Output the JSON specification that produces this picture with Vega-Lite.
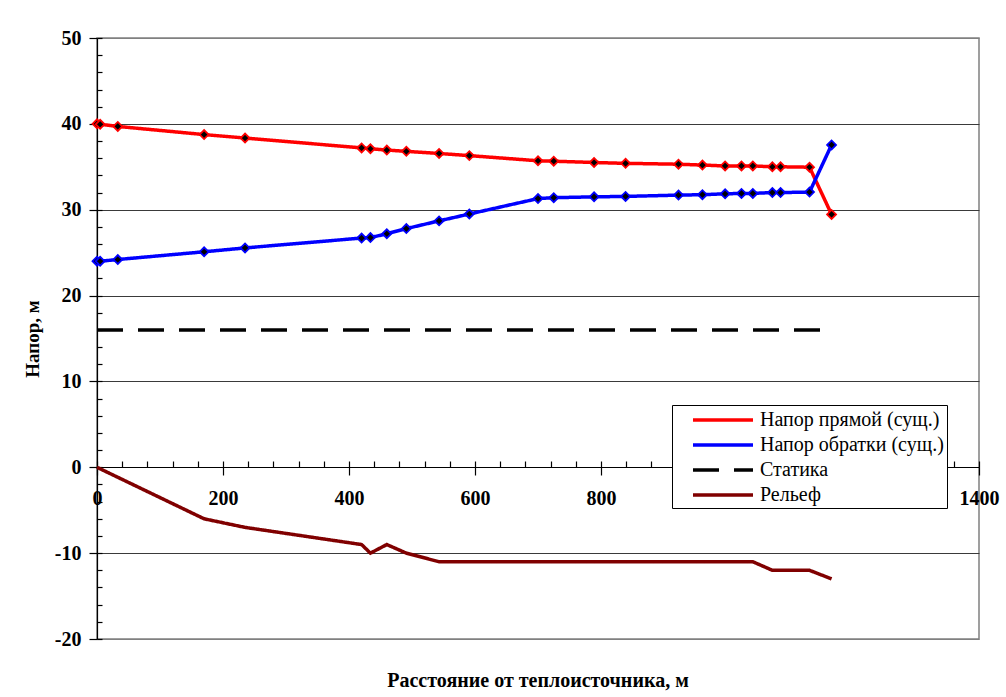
{
  "$schema": "https://vega.github.io/schema/vega-lite/v6.json",
  "width": 882,
  "height": 601,
  "autosize": {"type": "none"},
  "padding": {"left": 97, "top": 38, "right": 27, "bottom": 58},
  "background": "white",
  "title": {
    "text": "Расстояние от теплоисточника, м",
    "orient": "bottom",
    "anchor": "middle",
    "offset": 22,
    "font": "Liberation Serif, Times New Roman, DejaVu Serif, serif",
    "fontSize": 20,
    "fontWeight": "bold",
    "color": "black"
  },
  "config": {
    "view": {"stroke": "#808080", "strokeWidth": 1.5},
    "font": "Liberation Serif, Times New Roman, DejaVu Serif, serif"
  },
  "data": {
    "values": [
      {"d": 0, "h": 40.0, "s": "Напор прямой (сущ.)"},
      {"d": 5, "h": 39.95, "s": "Напор прямой (сущ.)"},
      {"d": 33, "h": 39.7, "s": "Напор прямой (сущ.)"},
      {"d": 170, "h": 38.75, "s": "Напор прямой (сущ.)"},
      {"d": 235, "h": 38.35, "s": "Напор прямой (сущ.)"},
      {"d": 420, "h": 37.2, "s": "Напор прямой (сущ.)"},
      {"d": 434, "h": 37.1, "s": "Напор прямой (сущ.)"},
      {"d": 460, "h": 36.95, "s": "Напор прямой (сущ.)"},
      {"d": 491, "h": 36.8, "s": "Напор прямой (сущ.)"},
      {"d": 543, "h": 36.55, "s": "Напор прямой (сущ.)"},
      {"d": 591, "h": 36.3, "s": "Напор прямой (сущ.)"},
      {"d": 700, "h": 35.7, "s": "Напор прямой (сущ.)"},
      {"d": 725, "h": 35.65, "s": "Напор прямой (сущ.)"},
      {"d": 789, "h": 35.5, "s": "Напор прямой (сущ.)"},
      {"d": 839, "h": 35.4, "s": "Напор прямой (сущ.)"},
      {"d": 923, "h": 35.3, "s": "Напор прямой (сущ.)"},
      {"d": 961, "h": 35.2, "s": "Напор прямой (сущ.)"},
      {"d": 997, "h": 35.1, "s": "Напор прямой (сущ.)"},
      {"d": 1023, "h": 35.1, "s": "Напор прямой (сущ.)"},
      {"d": 1041, "h": 35.1, "s": "Напор прямой (сущ.)"},
      {"d": 1072, "h": 35.0, "s": "Напор прямой (сущ.)"},
      {"d": 1085, "h": 35.0, "s": "Напор прямой (сущ.)"},
      {"d": 1131, "h": 34.95, "s": "Напор прямой (сущ.)"},
      {"d": 1166, "h": 29.45, "s": "Напор прямой (сущ.)"},
      {"d": 0, "h": 24.0, "s": "Напор обратки (сущ.)"},
      {"d": 5, "h": 24.0, "s": "Напор обратки (сущ.)"},
      {"d": 33, "h": 24.2, "s": "Напор обратки (сущ.)"},
      {"d": 170, "h": 25.1, "s": "Напор обратки (сущ.)"},
      {"d": 235, "h": 25.55, "s": "Напор обратки (сущ.)"},
      {"d": 420, "h": 26.7, "s": "Напор обратки (сущ.)"},
      {"d": 434, "h": 26.75, "s": "Напор обратки (сущ.)"},
      {"d": 460, "h": 27.2, "s": "Напор обратки (сущ.)"},
      {"d": 491, "h": 27.8, "s": "Напор обратки (сущ.)"},
      {"d": 543, "h": 28.7, "s": "Напор обратки (сущ.)"},
      {"d": 591, "h": 29.5, "s": "Напор обратки (сущ.)"},
      {"d": 700, "h": 31.3, "s": "Напор обратки (сущ.)"},
      {"d": 725, "h": 31.4, "s": "Напор обратки (сущ.)"},
      {"d": 789, "h": 31.5, "s": "Напор обратки (сущ.)"},
      {"d": 839, "h": 31.55, "s": "Напор обратки (сущ.)"},
      {"d": 923, "h": 31.7, "s": "Напор обратки (сущ.)"},
      {"d": 961, "h": 31.75, "s": "Напор обратки (сущ.)"},
      {"d": 997, "h": 31.85, "s": "Напор обратки (сущ.)"},
      {"d": 1023, "h": 31.9, "s": "Напор обратки (сущ.)"},
      {"d": 1041, "h": 31.9, "s": "Напор обратки (сущ.)"},
      {"d": 1072, "h": 32.0, "s": "Напор обратки (сущ.)"},
      {"d": 1085, "h": 32.0, "s": "Напор обратки (сущ.)"},
      {"d": 1131, "h": 32.05, "s": "Напор обратки (сущ.)"},
      {"d": 1166, "h": 37.55, "s": "Напор обратки (сущ.)"},
      {"d": 0, "h": 16, "s": "Статика"},
      {"d": 1168, "h": 16, "s": "Статика"},
      {"d": 0, "h": 0, "s": "Рельеф"},
      {"d": 170, "h": -6, "s": "Рельеф"},
      {"d": 235, "h": -7, "s": "Рельеф"},
      {"d": 420, "h": -9, "s": "Рельеф"},
      {"d": 434, "h": -10, "s": "Рельеф"},
      {"d": 460, "h": -9, "s": "Рельеф"},
      {"d": 491, "h": -10, "s": "Рельеф"},
      {"d": 543, "h": -11, "s": "Рельеф"},
      {"d": 1041, "h": -11, "s": "Рельеф"},
      {"d": 1072, "h": -12, "s": "Рельеф"},
      {"d": 1131, "h": -12, "s": "Рельеф"},
      {"d": 1166, "h": -13, "s": "Рельеф"}
    ]
  },
  "resolve": {"axis": {"x": "independent", "y": "independent"}},
  "layer": [
    {
      "mark": {"type": "line", "strokeWidth": 3.5, "clip": false},
      "encoding": {
        "x": {
          "field": "d", "type": "quantitative",
          "scale": {"domain": [0, 1400], "nice": false, "zero": false},
          "axis": {
            "title": null,
            "orient": "bottom",
            "offset": -172,
            "values": [0, 200, 400, 600, 800, 1400],
            "labelExpr": "'' + datum.value",
            "grid": false,
            "domainColor": "black",
            "domainWidth": 1.2,
            "tickColor": "black",
            "tickWidth": 1.2,
            "tickSize": 8,
            "labelPadding": 13,
            "labelFont": "Liberation Serif, Times New Roman, DejaVu Serif, serif",
            "labelFontSize": 20,
            "labelFontWeight": "bold",
            "labelColor": "black",
            "labelOverlap": false,
            "labelFlush": false,
            "labelBound": false
          }
        },
        "y": {
          "field": "h", "type": "quantitative",
          "scale": {"domain": [-20, 50], "nice": false, "zero": false},
          "axis": {
            "title": "Напор, м",
            "titleFont": "Liberation Serif, Times New Roman, DejaVu Serif, serif",
            "titleFontSize": 19,
            "titleFontWeight": "bold",
            "titleColor": "black",
            "titlePadding": 12,
            "orient": "left",
            "values": [-20, -10, 0, 10, 20, 30, 40, 50],
            "labelExpr": "'' + datum.value",
            "grid": true,
            "gridColor": {"condition": {"test": "datum.value == 50 || datum.value == -20", "value": "#808080"}, "value": "#3a3a3a"},
            "gridWidth": 1,
            "domainColor": "black",
            "domainWidth": 1.2,
            "tickColor": "black",
            "tickWidth": 1.2,
            "tickSize": 8,
            "labelPadding": 8,
            "labelFont": "Liberation Serif, Times New Roman, DejaVu Serif, serif",
            "labelFontSize": 20,
            "labelFontWeight": "bold",
            "labelColor": "black"
          }
        },
        "color": {
          "field": "s", "type": "nominal",
          "scale": {
            "domain": ["Напор прямой (сущ.)", "Напор обратки (сущ.)", "Статика", "Рельеф"],
            "range": ["#FF0000", "#0000FF", "#000000", "#800000"]
          },
          "legend": {
            "title": null,
            "orient": "none",
            "legendX": 575,
            "legendY": 367,
            "direction": "vertical",
            "strokeColor": "black",
            "fillColor": "white",
            "padding": 3,
            "symbolType": "M-3,0H3",
            "symbolSize": 400,
            "symbolStrokeWidth": 3.5,
            "symbolOffset": 36,
            "labelFont": "Liberation Serif, Times New Roman, DejaVu Serif, serif",
            "labelFontSize": 20,
            "labelColor": "black",
            "labelOffset": 25,
            "labelLimit": 400,
            "labelExpr": "datum.label + '\u00a0\u00a0\u00a0\u00a0\u00a0\u00a0\u00a0'",
            "rowPadding": 3,
            "offset": 0
          }
        },
        "strokeDash": {
          "field": "s", "type": "nominal",
          "scale": {
            "domain": ["Напор прямой (сущ.)", "Напор обратки (сущ.)", "Статика", "Рельеф"],
            "range": [[1, 0], [1, 0], [26, 15], [1, 0]]
          },
          "legend": {
            "title": null,
            "orient": "none",
            "legendX": 575,
            "legendY": 367,
            "direction": "vertical",
            "strokeColor": "black",
            "fillColor": "white",
            "padding": 3,
            "symbolType": "M-3,0H3",
            "symbolSize": 400,
            "symbolStrokeWidth": 3.5,
            "symbolOffset": 36,
            "labelFont": "Liberation Serif, Times New Roman, DejaVu Serif, serif",
            "labelFontSize": 20,
            "labelColor": "black",
            "labelOffset": 25,
            "labelLimit": 400,
            "labelExpr": "datum.label + '\u00a0\u00a0\u00a0\u00a0\u00a0\u00a0\u00a0'",
            "rowPadding": 3,
            "offset": 0
          }
        }
      }
    },
    {
      "transform": [{"filter": "datum.s == 'Напор прямой (сущ.)' || datum.s == 'Напор обратки (сущ.)'"}],
      "mark": {"type": "point", "shape": "diamond", "filled": true, "fill": "black", "size": 80, "strokeWidth": 1.8, "opacity": 1, "clip": false},
      "encoding": {
        "x": {
          "field": "d", "type": "quantitative",
          "axis": {
            "title": null,
            "orient": "bottom",
            "offset": -172,
            "values": [0, 40, 80, 120, 160, 200, 240, 280, 320, 360, 400, 440, 480, 520, 560, 600, 640, 680, 720, 760, 800, 840, 880, 920, 960, 1000, 1040, 1080, 1120, 1160, 1200, 1240, 1280, 1320, 1360, 1400],
            "labels": false,
            "domain": false,
            "grid": false,
            "tickColor": "black",
            "tickWidth": 1.2,
            "tickSize": -6
          }
        },
        "y": {
          "field": "h", "type": "quantitative",
          "axis": {
            "title": null,
            "orient": "left",
            "values": [-20, -18, -16, -14, -12, -10, -8, -6, -4, -2, 0, 2, 4, 6, 8, 10, 12, 14, 16, 18, 20, 22, 24, 26, 28, 30, 32, 34, 36, 38, 40, 42, 44, 46, 48, 50],
            "labels": false,
            "domain": false,
            "grid": false,
            "tickColor": "black",
            "tickWidth": 1.2,
            "tickSize": -5
          }
        },
        "stroke": {
          "field": "s", "type": "nominal",
          "scale": {
            "domain": ["Напор прямой (сущ.)", "Напор обратки (сущ.)"],
            "range": ["#FF0000", "#0000FF"]
          },
          "legend": null
        }
      }
    }
  ]
}
